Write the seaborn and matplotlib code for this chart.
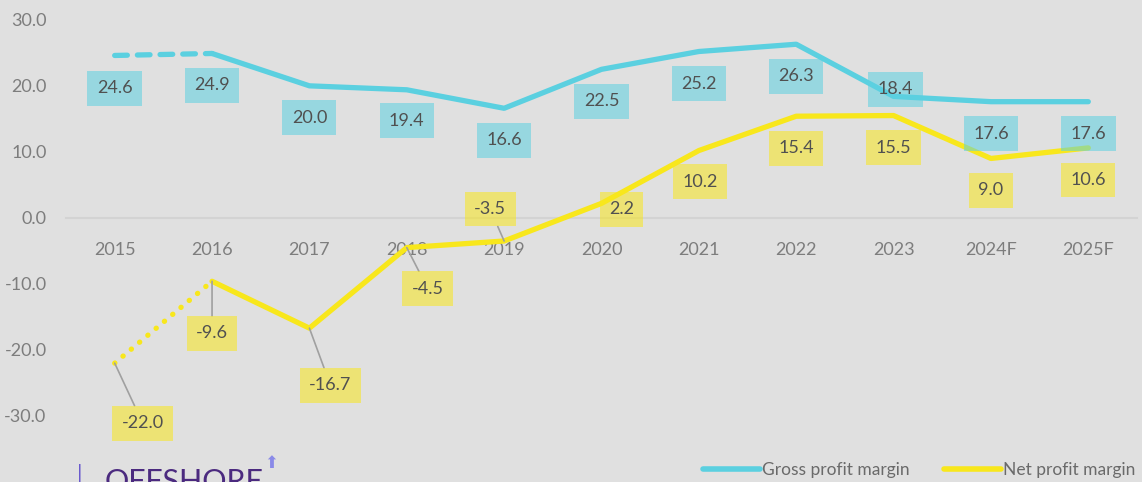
import seaborn as sns
import matplotlib.pyplot as plt
from matplotlib.lines import Line2D
import pandas as pd

years = ["2015", "2016", "2017", "2018", "2019", "2020", "2021", "2022", "2023", "2024F", "2025F"]
gross = [24.6, 24.9, 20.0, 19.4, 16.6, 22.5, 25.2, 26.3, 18.4, 17.6, 17.6]
net = [-22.0, -9.6, -16.7, -4.5, -3.5, 2.2, 10.2, 15.4, 15.5, 9.0, 10.6]

# label offsets in pixels (dx, dy) and whether a leader line is drawn
gross_off = [(0, -33), (0, -32), (0, -32), (0, -31), (0, -32), (0, -32), (0, -32), (0, -32), (2, 7), (0, -32), (0, -32)]
net_off = [(28, -60), (0, -52), (21, -57), (21, -41), (-14, 32), (20, -6), (1, -31), (0, -32), (0, -32), (0, -32), (0, -32)]
net_leader = [True, True, True, True, True, False, False, False, False, False, False]

CYAN = "#5bd0e0"
YELLOW = "#f8e71c"
BG = "#e0e0e0"

sns.set_theme(style="white", rc={"figure.facecolor": BG, "axes.facecolor": BG})
plt.rcParams["font.family"] = ["Lato", "DejaVu Sans"]

df = pd.DataFrame({"x": range(len(years)), "gross": gross, "net": net})

fig = plt.figure(figsize=(11.42, 4.82), dpi=100)
ax = fig.add_axes([66 / 1142, 0, (1137 - 66) / 1142, 1])

# solid parts from 2016 onward, dashed / dotted for 2015-2016
sns.lineplot(data=df.iloc[1:], x="x", y="gross", ax=ax, color=CYAN, lw=3.8,
             solid_capstyle="round", solid_joinstyle="round", zorder=3)
sns.lineplot(data=df.iloc[:2], x="x", y="gross", ax=ax, color=CYAN, lw=3.8,
             linestyle=(0, (2.4, 1.9)), dash_capstyle="round", zorder=3)
sns.lineplot(data=df.iloc[1:], x="x", y="net", ax=ax, color=YELLOW, lw=3.8,
             solid_capstyle="round", solid_joinstyle="round", zorder=3)
sns.lineplot(data=df.iloc[:2], x="x", y="net", ax=ax, color=YELLOW, lw=3.8,
             linestyle=(0, (0.05, 2.0)), dash_capstyle="round", zorder=3)

label_kw = dict(textcoords="offset pixels", ha="center", va="center",
                fontsize=13, color="#505050", zorder=5)

for i, v in enumerate(gross):
    ax.annotate(f"{v:.1f}", (i, v), xytext=gross_off[i],
                bbox=dict(boxstyle="square,pad=0.52", fc=CYAN, ec="none", alpha=0.55),
                **label_kw)

for i, v in enumerate(net):
    arrow = dict(arrowstyle="-", color="#a0a0a0", lw=1.2, shrinkA=0, shrinkB=0) if net_leader[i] else None
    ax.annotate(f"{v:.1f}", (i, v), xytext=net_off[i],
                bbox=dict(boxstyle="square,pad=0.52", fc=YELLOW, ec="none", alpha=0.55),
                arrowprops=arrow, **label_kw)

ax.set_xlim(-0.5, len(years) - 0.5)
ax.set_ylim(-40, 33)
ax.set_yticks([-30, -20, -10, 0, 10, 20, 30])
ax.set_yticklabels([f"{t:.1f}" for t in [-30, -20, -10, 0, 10, 20, 30]])
ax.set_xticks(range(len(years)))
ax.set_xticklabels(years)
ax.set_xlabel("")
ax.set_ylabel("")
ax.tick_params(axis="y", length=0, pad=14, labelsize=13, labelcolor="#7d7d7d")
ax.tick_params(axis="x", length=0, pad=17, labelsize=13, labelcolor="#7d7d7d")
for s in ["top", "right", "left"]:
    ax.spines[s].set_visible(False)
ax.spines["bottom"].set_position(("data", 0))
ax.spines["bottom"].set_color("#d3d3d3")
ax.spines["bottom"].set_linewidth(1.5)
ax.spines["bottom"].set_zorder(1)

handles = [Line2D([], [], color=CYAN, lw=4, solid_capstyle="round"),
           Line2D([], [], color=YELLOW, lw=4, solid_capstyle="round")]
fig.legend(handles, ["Gross profit margin", "Net profit margin"], loc="lower right",
           bbox_to_anchor=(1.008, -0.025), ncol=2, frameon=False, fontsize=12.5,
           handlelength=3.3, handletextpad=0.1, columnspacing=2.0,
           labelcolor="#6a6a6a")

# partially visible logo at the bottom left
fig.text(77 / 1142, -0.005, "|", color="#6a5acd", fontsize=16, va="bottom")
fig.text(105 / 1142, -0.03, "OFFSHORE", color="#4b2a7f", fontsize=22, va="bottom")
fig.text(264 / 1142, 0.02, "\u2b06", color="#8a8ae8", fontsize=12, va="bottom",
         family=["DejaVu Sans"])

fig.savefig("out.png", dpi=100, facecolor=BG)
